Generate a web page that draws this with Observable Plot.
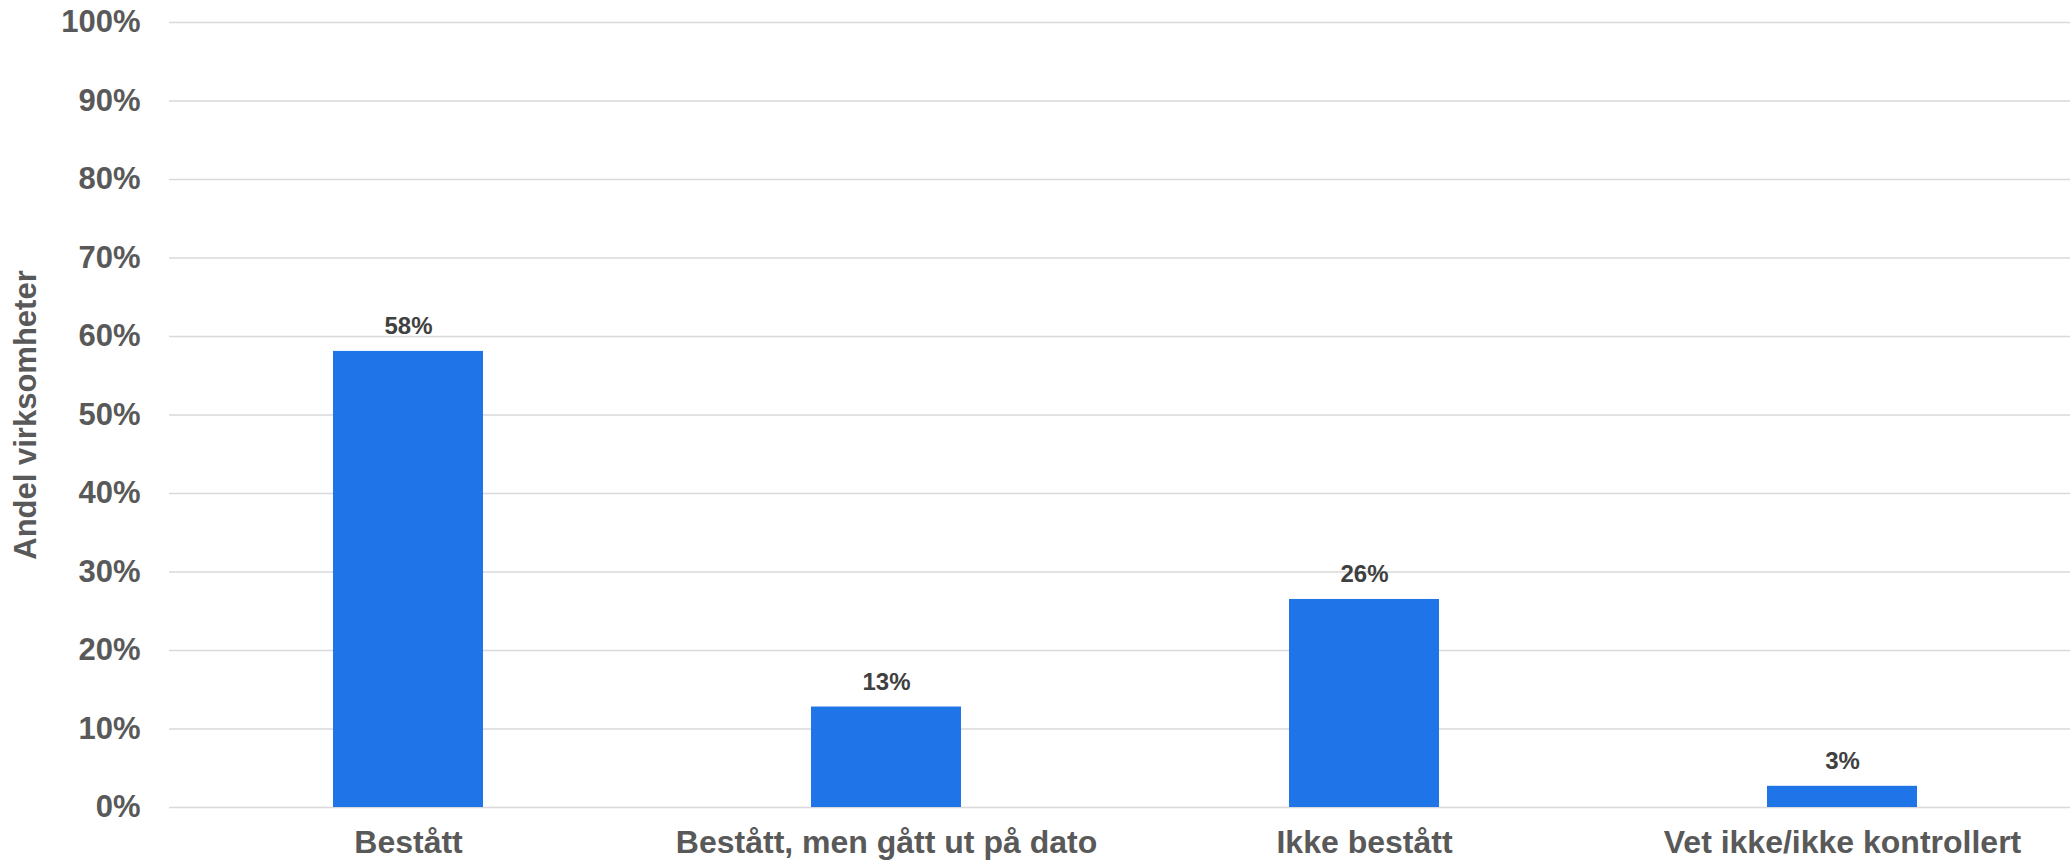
<!DOCTYPE html>
<html>
<head>
<meta charset="utf-8">
<script src="https://cdn.jsdelivr.net/npm/d3@7"></script>
<script src="https://cdn.jsdelivr.net/npm/@observablehq/plot@0.6"></script>
<style>
  html, body { margin: 0; padding: 0; background: #ffffff; }
</style>
</head>
<body>
<div id="chart"></div>
<script>
const categories = ["Bestått", "Bestått, men gått ut på dato", "Ikke bestått", "Vet ikke/ikke kontrollert"];
const values = [0.581, 0.128, 0.265, 0.027];
const valueLabels = ["58%", "13%", "26%", "3%"];
const yTicks = [0, 0.1, 0.2, 0.3, 0.4, 0.5, 0.6, 0.7, 0.8, 0.9, 1];
const yTickLabels = ["0%", "10%", "20%", "30%", "40%", "50%", "60%", "70%", "80%", "90%", "100%"];
const yTitle = "Andel virksomheter";

const data = categories.map((c, i) => ({cat: c, value: values[i], label: valueLabels[i]}));

const chart = Plot.plot({
  width: 2070,
  height: 864,
  marginLeft: 169,
  marginRight: 0,
  marginTop: 22,
  marginBottom: 57,
  style: {fontFamily: "'Liberation Sans', Arial, sans-serif", background: "#ffffff"},
  x: {domain: categories, range: [169, 2081], paddingInner: 0.686, paddingOuter: 0.343, label: null},
  y: {domain: [0, 1], label: null},
  marks: [
    Plot.gridY(yTicks, {stroke: "#d9d9d9", strokeOpacity: 1, strokeWidth: 1.3}),
    Plot.barY(data, {x: "cat", y: "value", fill: "#1f74e8"}),
    Plot.text(data, {x: "cat", y: "value", text: "label", dy: -17, lineAnchor: "bottom",
      fontSize: 24, fontWeight: "bold", fill: "#404040"}),
    Plot.axisY(yTicks, {tickSize: 0, tickPadding: 29, tickFormat: (d, i) => yTickLabels[yTicks.indexOf(d)],
      fontSize: 31, fontWeight: "bold", color: "#595959", label: null}),
    Plot.axisX({tickSize: 0, tickPadding: 23, fontSize: 32, fontWeight: "bold", color: "#595959", label: null}),
    Plot.text([yTitle], {frameAnchor: "left", dx: -143, rotate: -90, text: d => d,
      textAnchor: "middle", lineAnchor: "middle",
      fontSize: 31, fontWeight: "bold", fill: "#595959"})
  ]
});
document.getElementById("chart").appendChild(chart);
</script>
</body>
</html>
